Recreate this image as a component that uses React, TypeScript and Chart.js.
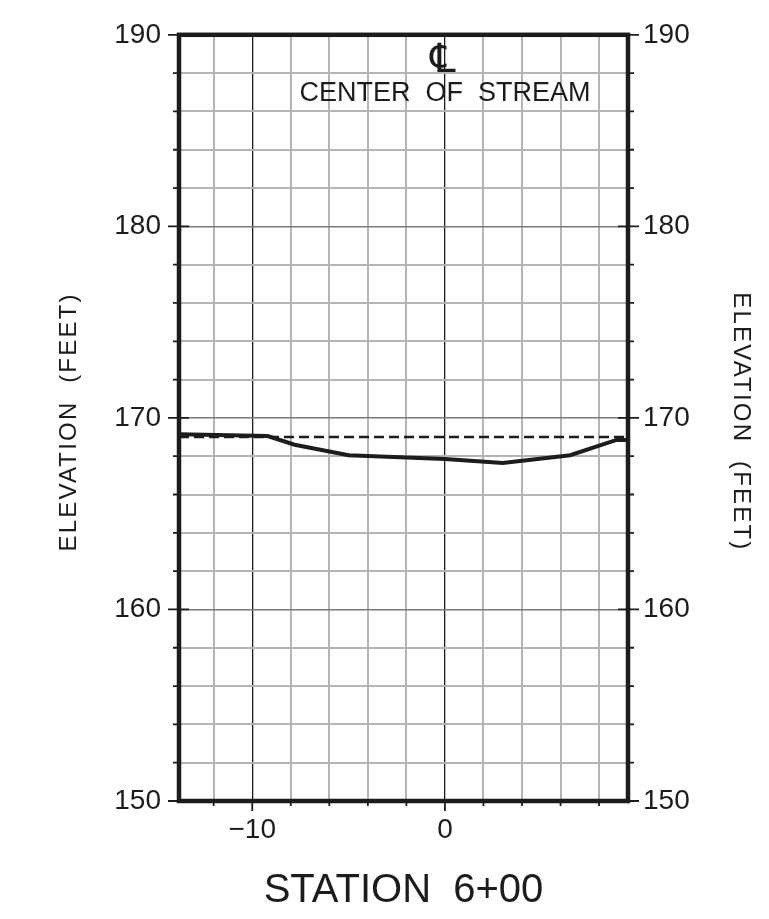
import React, { useEffect, useRef } from "react";
import { Chart, registerables } from "chart.js";

Chart.register(...registerables);

// ---- data ----
const groundStations = [-13.8, -9.2, -7.8, -5, 0, 3, 6.5, 8.9, 9.5];
const groundElevations = [169.15, 169.05, 168.6, 168.05, 167.85, 167.65, 168.05, 168.85, 168.85];
const waterStations = [-13.8, 9.5];
const waterElevations = [169.0, 169.0];

const xMin = -13.8;
const xMax = 9.5;
const yMin = 150;
const yMax = 190;
const xTickValues = [-12, -10, -8, -6, -4, -2, 0, 2, 4, 6, 8];
const yTickValues = [150, 152, 154, 156, 158, 160, 162, 164, 166, 168, 170, 172, 174, 176, 178, 180, 182, 184, 186, 188, 190];
const xLabeled = [-10, 0];
const yLabeled = [150, 160, 170, 180, 190];

const xTitle = "STATION  6+00";
const yTitle = "ELEVATION  (FEET)";
const clSymbol = "\u2104";
const noteText = "CENTER  OF  STREAM";
const noteStation = 0;
const noteElevation = 186.93;
const clElevation = 188.6;
const clStation = -0.1;

const INK = "#1c1c1c";
const GRAY = "#b4b4b4";
const FONT = "'Liberation Sans', Arial, sans-serif";

const framePlugin = {
  id: "frame",
  afterDraw(chart: any) {
    const { ctx, chartArea } = chart;
    const { left, right, top, bottom } = chartArea;
    const xs = chart.scales.x;
    const ys = chart.scales.y;
    ctx.save();
    ctx.strokeStyle = INK;
    ctx.lineCap = "butt";
    // ticks on y axes
    yTickValues.forEach((v) => {
      const py = ys.getPixelForValue(v);
      const major = yLabeled.includes(v);
      ctx.lineWidth = 1.8;
      ctx.beginPath();
      if (major) {
        ctx.moveTo(left - 11, py);
        ctx.lineTo(left + 10, py);
        ctx.moveTo(right - 10, py);
        ctx.lineTo(right + 11, py);
      } else {
        ctx.moveTo(left - 6, py);
        ctx.lineTo(left, py);
        ctx.moveTo(right, py);
        ctx.lineTo(right + 6, py);
      }
      ctx.stroke();
    });
    // ticks on x axis
    xTickValues.forEach((v) => {
      const px = xs.getPixelForValue(v);
      const major = xLabeled.includes(v);
      ctx.lineWidth = 1.8;
      ctx.beginPath();
      ctx.moveTo(px, bottom);
      ctx.lineTo(px, bottom + (major ? 10 : 5));
      ctx.stroke();
    });
    // frame
    ctx.lineWidth = 4.5;
    ctx.strokeRect(left, top, right - left, bottom - top);

    // y titles
    ctx.fillStyle = INK;
    ctx.font = `24px ${FONT}`;
    (ctx as any).letterSpacing = "2.2px";
    ctx.textAlign = "center";
    ctx.textBaseline = "middle";
    const cy = (top + bottom) / 2 + 4;
    ctx.save();
    ctx.translate(69, cy);
    ctx.rotate(-Math.PI / 2);
    ctx.fillText(yTitle, 0, 0);
    ctx.restore();
    ctx.save();
    ctx.translate(741, cy);
    ctx.rotate(Math.PI / 2);
    ctx.fillText(yTitle, 0, 0);
    ctx.restore();
    (ctx as any).letterSpacing = "0px";

    // centerline note
    ctx.font = `27px ${FONT}`;
    ctx.fillText(noteText, xs.getPixelForValue(noteStation), ys.getPixelForValue(noteElevation));
    ctx.font = `40px 'DejaVu Sans', sans-serif`;
    ctx.fillText(clSymbol, xs.getPixelForValue(clStation), ys.getPixelForValue(clElevation));
    ctx.restore();
  },
};

const fmt = (v: number) => (v < 0 ? "\u2212" + Math.abs(v) : String(v));

export default function App() {
  const ref = useRef<HTMLCanvasElement | null>(null);
  useEffect(() => {
    if (!ref.current) return;
    const chart = new Chart(ref.current, {
      type: "line",
      data: {
        datasets: [
          {
            label: "Ground",
            data: groundStations.map((x, i) => ({ x, y: groundElevations[i] })),
            borderColor: INK,
            borderWidth: 4,
            pointRadius: 0,
            tension: 0,
            fill: false,
          },
          {
            label: "Water surface",
            data: waterStations.map((x, i) => ({ x, y: waterElevations[i] })),
            borderColor: INK,
            borderWidth: 2.5,
            borderDash: [10, 5],
            pointRadius: 0,
            tension: 0,
            fill: false,
          },
        ],
      },
      options: {
        animation: false,
        responsive: false,
        devicePixelRatio: 1,
        layout: { padding: { top: 33, left: 0, right: 0, bottom: 0 } },
        plugins: { legend: { display: false }, tooltip: { enabled: false } },
        scales: {
          x: {
            type: "linear",
            position: "bottom",
            min: xMin,
            max: xMax,
            afterBuildTicks: (s: any) => {
              s.ticks = xTickValues.map((v) => ({ value: v }));
            },
            afterFit: (s: any) => {
              s.height = 118;
            },
            border: { display: false },
            grid: {
              drawTicks: false,
              color: (c: any) => (xLabeled.includes(c.tick?.value) ? INK : GRAY),
              lineWidth: (c: any) => (xLabeled.includes(c.tick?.value) ? 1.3 : 2),
            },
            ticks: {
              autoSkip: false,
              maxRotation: 0,
              padding: 12,
              color: INK,
              font: { family: FONT, size: 28 },
              callback: (v: any) => (xLabeled.includes(Number(v)) ? fmt(Number(v)) : ""),
            },
            title: {
              display: true,
              text: xTitle,
              color: INK,
              font: { family: FONT, size: 40 },
              padding: { top: 0, bottom: 4 },
            },
          },
          y: {
            type: "linear",
            position: "left",
            min: yMin,
            max: yMax,
            afterBuildTicks: (s: any) => {
              s.ticks = yTickValues.map((v) => ({ value: v }));
            },
            afterFit: (s: any) => {
              s.width = 179;
            },
            border: { display: false },
            grid: {
              drawTicks: false,
              color: (c: any) => (yLabeled.includes(c.tick?.value) ? "#7a7a7a" : GRAY),
              lineWidth: (c: any) => (yLabeled.includes(c.tick?.value) ? 1.5 : 2),
            },
            ticks: {
              autoSkip: false,
              padding: 18,
              color: INK,
              font: { family: FONT, size: 28 },
              callback: (v: any) => (yLabeled.includes(Number(v)) ? String(v) : ""),
            },
          },
          y2: {
            type: "linear",
            position: "right",
            min: yMin,
            max: yMax,
            afterBuildTicks: (s: any) => {
              s.ticks = yTickValues.map((v) => ({ value: v }));
            },
            afterFit: (s: any) => {
              s.width = 141;
            },
            border: { display: false },
            grid: { display: false, drawTicks: false },
            ticks: {
              autoSkip: false,
              padding: 15,
              color: INK,
              font: { family: FONT, size: 28 },
              callback: (v: any) => (yLabeled.includes(Number(v)) ? String(v) : ""),
            },
          },
        },
      },
      plugins: [framePlugin],
    } as any);
    return () => chart.destroy();
  }, []);
  return (
    <div style={{ position: "fixed", left: 0, top: 0, width: 769, height: 919, background: "#fff" }}>
      <canvas ref={ref} width={769} height={919} style={{ display: "block" }} />
    </div>
  );
}
